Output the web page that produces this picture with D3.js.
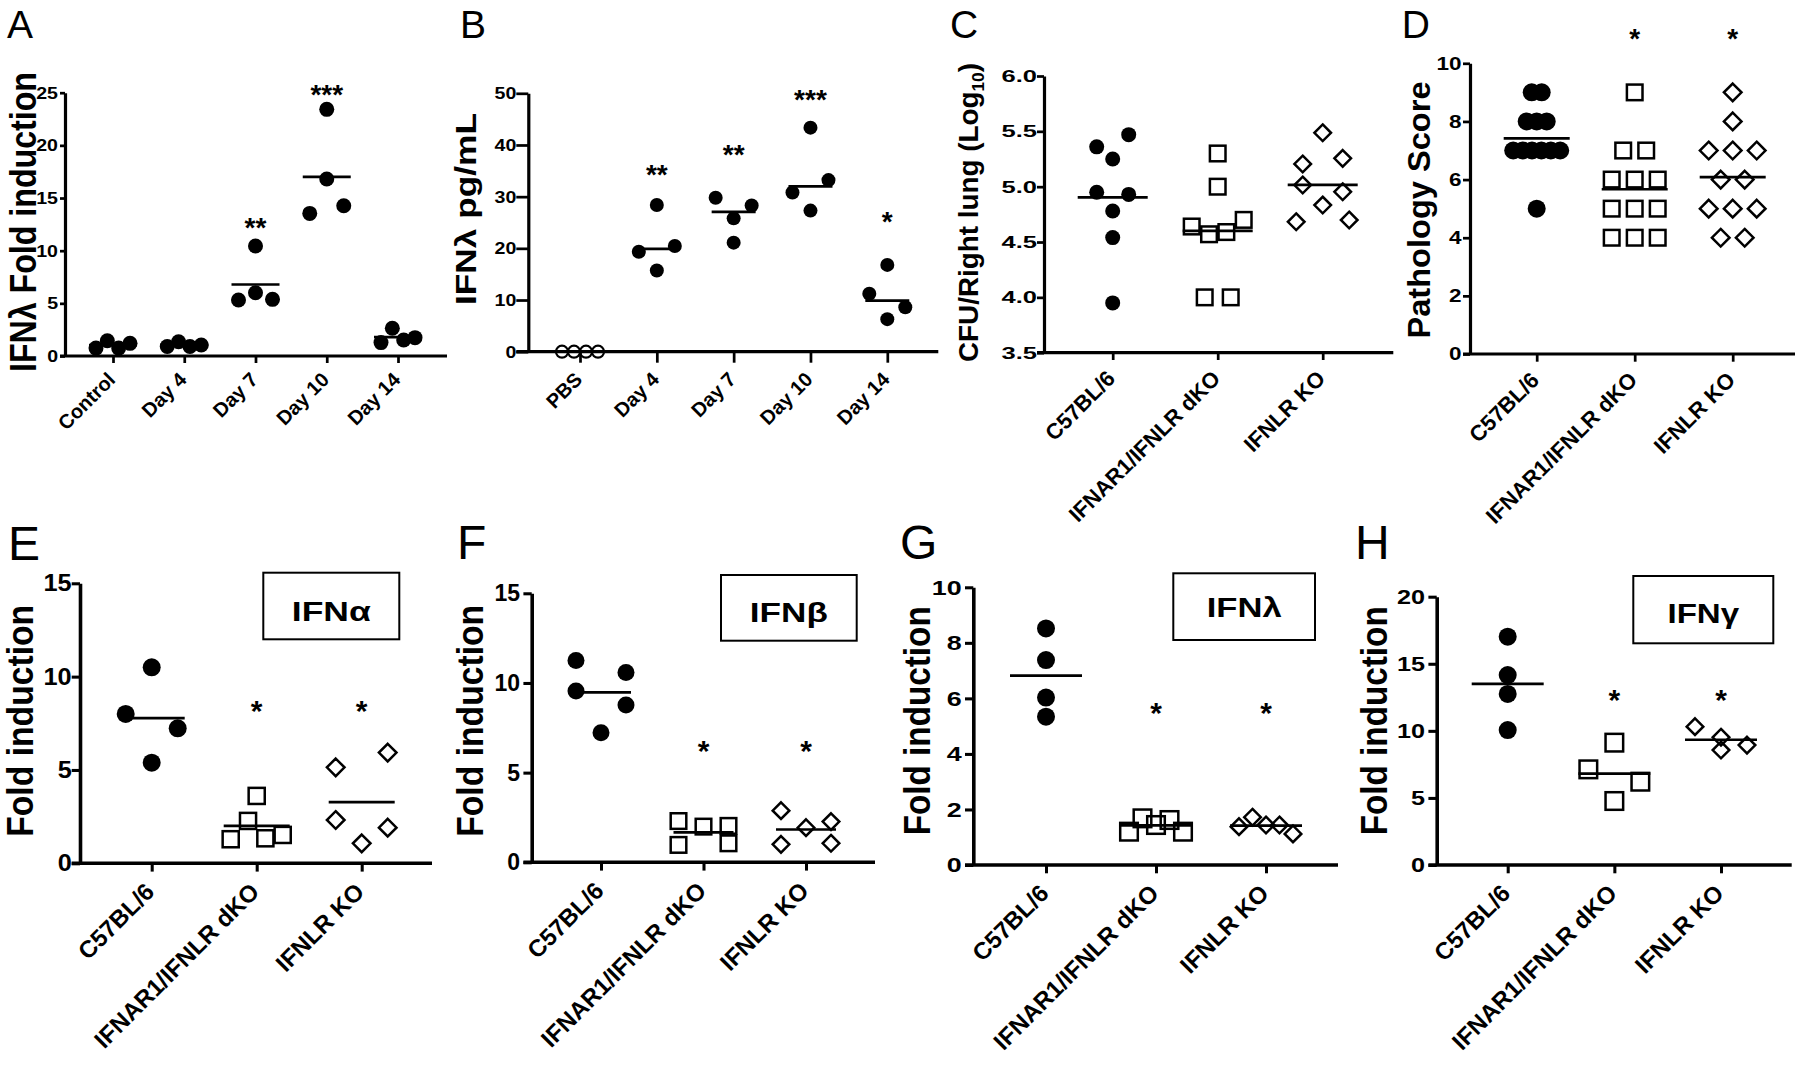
<!DOCTYPE html>
<html><head><meta charset="utf-8">
<script src="https://cdn.jsdelivr.net/npm/d3@7"></script>
<style>
body{margin:0;background:#fff}
svg text{font-family:"Liberation Sans",Arial,Helvetica,sans-serif;fill:#000}
</style></head>
<body><svg id="c" width="1800" height="1090"></svg>
<script>
// ---------------- DATA ----------------
const catsTime = ["Control", "Day 4", "Day 7", "Day 10", "Day 14"];
const catsTimeB = ["PBS", "Day 4", "Day 7", "Day 10", "Day 14"];
const catsMice = ["C57BL/6", "IFNAR1/IFNLR dKO", "IFNLR KO"];

const ticksA = [0, 5, 10, 15, 20, 25];
const ticksB = [0, 10, 20, 30, 40, 50];
const ticksC = [3.5, 4.0, 4.5, 5.0, 5.5, 6.0];
const ticksD = [0, 2, 4, 6, 8, 10];
const ticks15 = [0, 5, 10, 15];
const ticksG = [0, 2, 4, 6, 8, 10];
const ticksH = [0, 5, 10, 15, 20];

// A: IFNλ fold induction over time
const A_control = [0.75, 1.45, 0.75, 1.2];
const A_day4 = [0.9, 1.35, 0.9, 1.05];
const A_day7 = [5.32, 10.44, 6.01, 5.38];
const A_day10 = [13.54, 23.42, 16.8, 14.27];
const A_day14 = [1.27, 2.63, 1.52, 1.74];
const A_stars = ["", "", "**", "***", ""];
const A_starAt = [null, null, 12.9, 25.5, null];

// B: IFNλ pg/mL
const B_pbs = [0, 0, 0, 0];
const B_day4 = [19.35, 28.4, 15.7, 20.45];
const B_day7 = [29.8, 25.8, 21.1, 28.3];
const B_day10 = [30.8, 43.35, 27.3, 33.2];
const B_day14 = [11.2, 6.3, 16.8, 8.6];
const B_stars = ["", "**", "**", "***", "*"];
const B_starAt = [null, 35.6, 39.4, 50.1, 26.5];

// C: CFU / right lung (log10)
const C_wt = [5.36, 4.95, 4.78, 4.54, 3.95, 5.47, 5.25, 4.93];
const C_dko = [4.64, 4.57, 4.0, 5.3, 5.0, 4.59, 4.0, 4.70];
const C_ko = [5.015, 4.683, 5.205, 5.487, 4.834, 5.256, 4.954, 4.699];

// D: pathology score
const D_wt = [9, 9, 8, 8, 8, 7, 7, 7, 7, 7, 7, 5];
const D_dko = [9, 7, 7, 6, 6, 6, 5, 5, 5, 4, 4, 4];
const D_ko = [9, 8, 7, 7, 7, 6, 6, 5, 5, 5, 4, 4];
const D_stars = ["", "*", "*"];
const D_starAt = [null, 11.1, 11.1];

// E: IFNα
const E_wt = [8.0, 10.5, 5.39, 7.23];
const E_dko = [1.29, 2.27, 3.61, 1.34, 1.52];
const E_ko = [5.14, 2.32, 1.07, 5.93, 1.91];
const E_stars = ["", "*", "*"];
const E_starAt = [null, 8.57, 8.57];

// F: IFNβ
const F_wt = [11.25, 9.55, 7.23, 10.58, 8.77];
const F_dko = [2.30, 0.97, 1.99, 1.06, 2.03];
const F_ko = [2.88, 1.0, 1.93, 2.27, 1.06];
const F_stars = ["", "*", "*"];
const F_starAt = [null, 6.64, 6.64];

// G: IFNλ
const G_wt = [8.52, 7.38, 6.03, 5.34];
const G_dko = [1.20, 1.68, 1.44, 1.62, 1.20];
const G_ko = [1.38, 1.72, 1.44, 1.44, 1.12];
const G_stars = ["", "*", "*"];
const G_starAt = [null, 5.76, 5.76];

// H: IFNγ
const H_wt = [17.02, 14.16, 12.75, 10.06];
const H_dko = [7.13, 9.12, 4.77, 6.21];
const H_ko = [10.31, 8.57, 9.52, 8.94];
const H_stars = ["", "*", "*"];
const H_starAt = [null, 12.84, 12.84];

// ---------------- LAYOUT / STYLE ----------------
const topStyle = {sw: 3.2};
const botStyle = {sw: 3.6, xfs: 24, ytick: 8.3, xtick: 8.3, lfs: 48};

const panels = [
  {letter: "A", lx: 7, ly: 38, lfs: 39, ax: 65, yTop: 92.7, yBot: 356, domain: [0, 25], ticks: ticksA, fmt: d3.format("d"),
   xFirst: 113, xLast: 398, xEnd: 447, sw: topStyle.sw, ytick: 5, ypad: 2, yfs: 17, ystretch: 1.15, xtick: 7, xfs: 20,
   ylab: {text: "IFNλ Fold induction", bx: 36, cy: 222, fs: 37, len: 300},
   cats: catsTime, values: [A_control, A_day4, A_day7, A_day10, A_day14],
   shapes: ["circle", "circle", "circle", "circle", "circle"], sizes: [15, 15, 15, 15, 15], W: [34, 34, 34, 34, 34], sMax: [34, 34, 34, 34, 34],
   half: 24, stat: "mean", stars: A_stars, starAt: A_starAt, sfs: 28},
  {letter: "B", lx: 460, ly: 38, lfs: 39, ax: 528.3, yTop: 93.3, yBot: 351.7, domain: [0, 50], ticks: ticksB, fmt: d3.format("d"),
   xFirst: 580, xLast: 887.3, xEnd: 938.3, sw: topStyle.sw, ytick: 12, ypad: 0, yfs: 17, ystretch: 1.15, xtick: 11, xfs: 20,
   ylab: {text: "IFNλ pg/mL", bx: 475.7, cy: 209, fs: 30, len: 192},
   cats: catsTimeB, values: [B_pbs, B_day4, B_day7, B_day10, B_day14],
   shapes: ["open", "circle", "circle", "circle", "circle"], sizes: [14, 14, 14, 14, 14], W: [36, 36, 36, 36, 36], sMax: [36, 36, 36, 36, 36],
   half: 22, stat: "median", stars: B_stars, starAt: B_starAt, sfs: 28},
  {letter: "C", lx: 950, ly: 38, lfs: 39, ax: 1044, yTop: 76, yBot: 352.7, domain: [3.5, 6.0], ticks: ticksC, fmt: d3.format(".1f"),
   xFirst: 1112.7, xLast: 1322.7, xEnd: 1393.3, sw: topStyle.sw, ytick: 7, ypad: 0, yfs: 17, ystretch: 1.5, xtick: 7.3, xfs: 22,
   ylab: {text: "CFU/Right lung (Log", sub: "10", tail: ")", bx: 978, cy: 212.5, fs: 27, len: 299},
   cats: catsMice, values: [C_wt, C_dko, C_ko],
   shapes: ["circle", "square", "diamond"], sizes: [15, 18, 19], W: [32, 52, 53], sMax: [32, 26, 40],
   half: 35, stat: "mean", stars: ["", "", ""], starAt: [null, null, null], sfs: 28},
  {letter: "D", lx: 1401.7, ly: 38, lfs: 39, ax: 1470, yTop: 63.3, yBot: 354, domain: [0, 10], ticks: ticksD, fmt: d3.format("d"),
   xFirst: 1536.7, xLast: 1732.7, xEnd: 1795, sw: topStyle.sw, ytick: 7, ypad: 1.5, yfs: 18, ystretch: 1.25, xtick: 7.7, xfs: 22,
   ylab: {text: "Pathology Score", bx: 1430, cy: 210, fs: 32, len: 257},
   cats: catsMice, values: [D_wt, D_dko, D_ko],
   shapes: ["circle", "square", "diamond"], sizes: [18, 18, 20], W: [47, 46, 48], sMax: [10, 23, 24],
   half: 33, stat: "mean", stars: D_stars, starAt: D_starAt, sfs: 28},
  {letter: "E", lx: 8, ly: 560, lfs: botStyle.lfs, ax: 80, yTop: 583.3, yBot: 863.3, domain: [0, 15], ticks: ticks15, fmt: d3.format("d"),
   xFirst: 151.7, xLast: 361.7, xEnd: 432, sw: botStyle.sw, ytick: botStyle.ytick, ypad: 0, yfs: 23, ystretch: 1.1, xtick: botStyle.xtick, xfs: botStyle.xfs,
   ylab: {text: "Fold induction", bx: 32.5, cy: 720.8, fs: 36, len: 232},
   cats: catsMice, values: [E_wt, E_dko, E_ko],
   shapes: ["circle", "square", "diamond"], sizes: [18, 18.5, 20], W: [52, 52, 52], sMax: [52, 52, 52],
   half: 33, stat: "mean", stars: E_stars, starAt: E_starAt, sfs: 30,
   box: {x: 263.3, y: 572.7, w: 136, h: 66.6, text: "IFNα", base: 48, fs: 28, len: 79}},
  {letter: "F", lx: 457, ly: 559, lfs: botStyle.lfs, ax: 531.7, yTop: 593.3, yBot: 862.3, domain: [0, 15], ticks: ticks15, fmt: d3.format("d"),
   xFirst: 601, xLast: 806, xEnd: 875, sw: botStyle.sw, ytick: botStyle.ytick, ypad: 3.4, yfs: 23, ystretch: 1.0, xtick: botStyle.xtick, xfs: botStyle.xfs,
   ylab: {text: "Fold induction", bx: 483.3, cy: 720.8, fs: 37, len: 232},
   cats: catsMice, values: [F_wt, F_dko, F_ko],
   shapes: ["circle", "square", "diamond"], sizes: [17, 18, 19], W: [50, 50, 50], sMax: [50, 50, 50],
   half: 30, stat: "mean", stars: F_stars, starAt: F_starAt, sfs: 30,
   box: {x: 721, y: 575, w: 135.7, h: 65.7, text: "IFNβ", base: 46.7, fs: 28, len: 78}},
  {letter: "G", lx: 900, ly: 559, lfs: botStyle.lfs, ax: 973.3, yTop: 587.3, yBot: 865, domain: [0, 10], ticks: ticksG, fmt: d3.format("d"),
   xFirst: 1046, xLast: 1266, xEnd: 1338, sw: botStyle.sw, ytick: botStyle.ytick, ypad: 3.3, yfs: 21, ystretch: 1.28, xtick: botStyle.xtick, xfs: botStyle.xfs,
   ylab: {text: "Fold induction", bx: 930, cy: 720.8, fs: 37, len: 229},
   cats: catsMice, values: [G_wt, G_dko, G_ko],
   shapes: ["circle", "square", "diamond"], sizes: [18, 20, 19], W: [54, 54, 54], sMax: [54, 54, 54],
   half: 36, stat: "mean", stars: G_stars, starAt: G_starAt, sfs: 30,
   box: {x: 1173.3, y: 573.3, w: 141.7, h: 66.7, text: "IFNλ", base: 44, fs: 28, len: 75}},
  {letter: "H", lx: 1355, ly: 559, lfs: botStyle.lfs, ax: 1436.7, yTop: 596.7, yBot: 865, domain: [0, 20], ticks: ticksH, fmt: d3.format("d"),
   xFirst: 1507.7, xLast: 1721, xEnd: 1791.7, sw: botStyle.sw, ytick: botStyle.ytick, ypad: 3.4, yfs: 21, ystretch: 1.2, xtick: botStyle.xtick, xfs: botStyle.xfs,
   ylab: {text: "Fold induction", bx: 1386.7, cy: 720.8, fs: 37, len: 229},
   cats: catsMice, values: [H_wt, H_dko, H_ko],
   shapes: ["circle", "square", "diamond"], sizes: [18, 20, 19], W: [52, 52, 52], sMax: [52, 52, 52],
   half: 36, stat: "mean", stars: H_stars, starAt: H_starAt, sfs: 30,
   box: {x: 1633.3, y: 576, w: 140, h: 67.3, text: "IFNγ", base: 46.7, fs: 28, len: 71.7}}
];

// ---------------- DRAW ----------------
const svg = d3.select("#c");
const FF = '"Liberation Sans", Arial, Helvetica, sans-serif';

// group points with similar values into rows, spread each row horizontally
function spread(vals, y, size, W, sMax) {
  const idx = vals.map((v, i) => i).sort((a, b) => vals[b] - vals[a]);
  const rows = [];
  let cur = null;
  idx.forEach(i => {
    if (cur && Math.abs(y(vals[cur[0]]) - y(vals[i])) < size) cur.push(i);
    else { cur = [i]; rows.push(cur); }
  });
  const off = vals.map(() => 0);
  rows.forEach(r => {
    r.sort((a, b) => a - b);
    const k = r.length;
    if (k < 2) return;
    const s = Math.min(sMax, W / (k - 1));
    r.forEach((i, j) => { off[i] = (j - (k - 1) / 2) * s; });
  });
  return off;
}

function stretchText(sel, factor) {
  sel.each(function () {
    const L = this.getComputedTextLength();
    if (factor !== 1) d3.select(this).attr("textLength", L * factor).attr("lengthAdjust", "spacingAndGlyphs");
  });
}

panels.forEach(p => {
  const g = svg.append("g");
  const y = d3.scaleLinear().domain(p.domain).range([p.yBot, p.yTop]);
  const x = d3.scalePoint().domain(p.cats).range([p.xFirst, p.xLast]);

  // panel letter
  g.append("text").attr("x", p.lx).attr("y", p.ly).style("font-size", p.lfs + "px").style("font-weight", "normal").text(p.letter);

  // y axis
  const gy = g.append("g").attr("transform", `translate(${p.ax},0)`)
    .call(d3.axisLeft(y).tickValues(p.ticks).tickFormat(p.fmt).tickSize(p.ytick).tickPadding(p.ypad).tickSizeOuter(0));
  gy.attr("font-family", FF);
  gy.select(".domain").attr("stroke-width", p.sw);
  gy.selectAll(".tick line").attr("stroke-width", p.sw * 0.85);
  gy.selectAll(".tick text").style("font-size", p.yfs + "px").style("font-weight", "bold").call(stretchText, p.ystretch);

  // x axis line + ticks
  g.append("line").attr("x1", p.ax - p.ytick).attr("x2", p.xEnd).attr("y1", p.yBot).attr("y2", p.yBot)
    .attr("stroke", "#000").attr("stroke-width", p.sw);
  const gx = g.append("g").attr("transform", `translate(0,${p.yBot})`)
    .call(d3.axisBottom(x).tickSize(p.xtick).tickSizeOuter(0));
  gx.attr("font-family", FF);
  gx.select(".domain").remove();
  gx.selectAll(".tick line").attr("stroke-width", p.sw * 0.85);
  gx.selectAll(".tick text")
    .attr("x", 0).attr("y", 0).attr("dy", null)
    .attr("text-anchor", "end")
    .attr("transform", `translate(${0.15 * p.xfs},${p.xtick + 0.9 * p.xfs}) rotate(-45)`)
    .style("font-size", p.xfs + "px").style("font-weight", "bold");

  // y label
  const yl = g.append("text").attr("transform", `translate(${p.ylab.bx},${p.ylab.cy}) rotate(-90)`)
    .attr("text-anchor", "middle").style("font-size", p.ylab.fs + "px").style("font-weight", "bold")
    .attr("textLength", p.ylab.len).attr("lengthAdjust", "spacingAndGlyphs");
  yl.append("tspan").text(p.ylab.text);
  if (p.ylab.sub) {
    yl.append("tspan").attr("dy", 0.22 * p.ylab.fs).style("font-size", (p.ylab.fs * 0.62) + "px").text(p.ylab.sub);
    yl.append("tspan").attr("dy", -0.22 * p.ylab.fs).text(p.ylab.tail);
  }

  // data
  p.values.forEach((vals, i) => {
    const cx = x(p.cats[i]);
    const size = p.sizes[i];
    const shape = p.shapes[i];
    const off = spread(vals, y, size, p.W[i], p.sMax[i]);
    const c = p.stat === "median" ? d3.median(vals) : d3.mean(vals);
    g.append("line").attr("x1", cx - p.half).attr("x2", cx + p.half).attr("y1", y(c)).attr("y2", y(c))
      .attr("stroke", "#000").attr("stroke-width", 2.7);
    const mg = g.append("g");
    vals.forEach((v, j) => {
      const px = cx + off[j], py = y(v);
      if (shape === "circle") {
        mg.append("circle").attr("cx", px).attr("cy", py).attr("r", size / 2).attr("fill", "#000");
      } else if (shape === "open") {
        mg.append("circle").attr("cx", px).attr("cy", py).attr("r", size / 2 - 1).attr("fill", "none").attr("stroke", "#000").attr("stroke-width", 2.2);
      } else if (shape === "square") {
        const h = size / 2 - 1.2;
        mg.append("rect").attr("x", px - h).attr("y", py - h).attr("width", 2 * h).attr("height", 2 * h)
          .attr("fill", "none").attr("stroke", "#000").attr("stroke-width", 2.5);
      } else if (shape === "diamond") {
        const h = size / 2 - 1.2;
        mg.append("path").attr("d", `M${px},${py - h}L${px + h},${py}L${px},${py + h}L${px - h},${py}Z`)
          .attr("fill", "none").attr("stroke", "#000").attr("stroke-width", 2.5);
      }
    });
    // significance stars
    if (p.stars[i]) {
      g.append("text").attr("x", cx).attr("y", y(p.starAt[i]) + 0.585 * p.sfs)
        .attr("text-anchor", "middle").style("font-size", p.sfs + "px").style("font-weight", "bold").text(p.stars[i]);
    }
  });

  // legend box
  if (p.box) {
    const b = p.box;
    g.append("rect").attr("x", b.x).attr("y", b.y).attr("width", b.w).attr("height", b.h)
      .attr("fill", "none").attr("stroke", "#000").attr("stroke-width", 2);
    g.append("text").attr("x", b.x + b.w / 2).attr("y", b.y + b.base).attr("text-anchor", "middle")
      .style("font-size", b.fs + "px").style("font-weight", "bold")
      .attr("textLength", b.len).attr("lengthAdjust", "spacingAndGlyphs").text(b.text);
  }
});
</script>
</body></html>
